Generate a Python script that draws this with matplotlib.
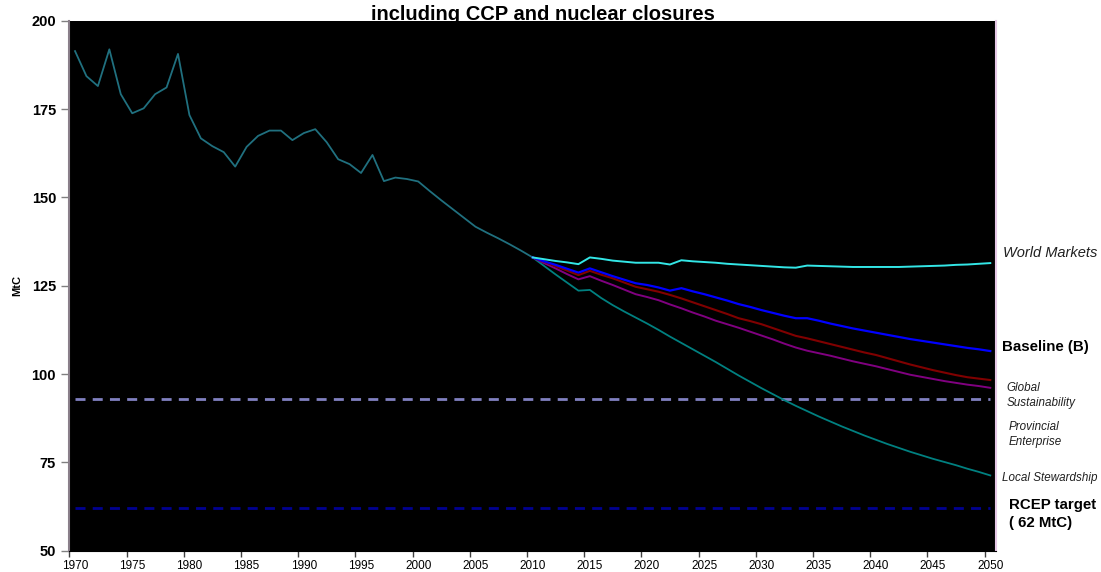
import matplotlib
matplotlib.use("Agg")
import matplotlib.pyplot as plt
import numpy as np

plt.rcParams['font.family'] = ['Liberation Sans', 'DejaVu Sans']

# Historical emissions, 1970-2010 (MtC)
hist_years = list(range(1970, 2011))
hist_values = [191.4, 184.3, 181.5, 191.9, 179.2, 173.8, 175.2, 179.2, 181.1, 190.6,
               173.3, 166.7, 164.5, 162.8, 158.7, 164.3, 167.4, 168.9, 168.9, 166.2,
               168.2, 169.3, 165.6, 160.8, 159.4, 156.9, 162.0, 154.6, 155.6, 155.2,
               154.5, 151.8, 149.2, 146.7, 144.2, 141.7, 140.0, 138.4, 136.7, 134.9,
               133.0]

# Scenario projections, 2010-2050 (MtC)
proj_years = list(range(2010, 2051))
world_markets = [133.0, 132.5, 132.0, 131.6, 131.1, 133.0, 132.6, 132.1, 131.8, 131.5,
                 131.5, 131.5, 131.0, 132.2, 131.9, 131.7, 131.5, 131.2, 131.0, 130.8,
                 130.6, 130.4, 130.2, 130.1, 130.7, 130.6, 130.5, 130.4, 130.3, 130.3,
                 130.3, 130.3, 130.3, 130.4, 130.5, 130.6, 130.7, 130.9, 131.0, 131.2,
                 131.4]
baseline = [133.0, 131.9, 130.9, 129.8, 128.7, 129.9, 128.8, 127.7, 126.7, 125.7,
            125.2, 124.5, 123.6, 124.3, 123.4, 122.6, 121.7, 120.8, 119.8, 119.0,
            118.1, 117.3, 116.5, 115.8, 115.8, 115.1, 114.3, 113.6, 112.9, 112.3,
            111.7, 111.1, 110.5, 109.9, 109.4, 108.9, 108.4, 107.9, 107.4, 107.0,
            106.5]
global_sustainability = [133.0, 131.8, 130.5, 129.3, 128.0, 129.2, 128.1, 127.1, 125.9, 124.7,
                         124.0, 123.3, 122.4, 121.4, 120.3, 119.2, 118.1, 117.0, 115.8, 115.0,
                         114.1, 113.0, 111.9, 110.8, 110.1, 109.3, 108.5, 107.7, 106.9, 106.1,
                         105.4, 104.5, 103.6, 102.7, 101.9, 101.1, 100.4, 99.7, 99.1, 98.7,
                         98.3]
provincial_enterprise = [133.0, 131.4, 129.9, 128.3, 126.8, 127.7, 126.4, 125.2, 123.9, 122.6,
                         121.8, 120.9, 119.7, 118.6, 117.4, 116.3, 115.1, 114.1, 113.1, 112.0,
                         110.9, 109.8, 108.6, 107.5, 106.6, 105.9, 105.2, 104.4, 103.6, 102.9,
                         102.2, 101.4, 100.6, 99.8, 99.2, 98.6, 98.0, 97.5, 97.0, 96.6,
                         96.1]
local_stewardship = [133.0, 130.6, 128.2, 125.9, 123.6, 123.8, 121.5, 119.5, 117.7, 116.0,
                     114.3, 112.5, 110.6, 108.8, 107.0, 105.2, 103.4, 101.5, 99.6, 97.8,
                     96.0, 94.3, 92.6, 91.0, 89.5, 88.0, 86.6, 85.2, 83.9, 82.6,
                     81.4, 80.2, 79.1, 78.0, 77.0, 76.0, 75.1, 74.2, 73.2, 72.3,
                     71.3]

# Reference levels (MtC)
global_sust_level = 93
rcep_target = 62

y_ticks = [50, 75, 100, 125, 150, 175, 200]
x_tick_years = list(range(1970, 2051, 5))

fig = plt.figure(figsize=(11.01, 5.72), dpi=100)
ax = fig.add_axes([69.3 / 1101, 1 - 550.7 / 572, (996 - 69.3) / 1101, (550.7 - 20.7) / 572])
ax.set_facecolor('black')

# dashed reference lines
ax.plot([1970, 2050], [global_sust_level] * 2, color='#8080c0', lw=2.0,
        dashes=(3.6, 2.6), solid_capstyle='butt')
ax.plot([1970, 2050], [rcep_target] * 2, color='#000090', lw=2.0,
        dashes=(3.6, 2.6), solid_capstyle='butt')

ax.plot(hist_years, hist_values, color='#20707f', lw=1.3)
ax.plot(proj_years, local_stewardship, color='#008080', lw=1.3)
ax.plot(proj_years, provincial_enterprise, color='#800080', lw=1.4)
ax.plot(proj_years, global_sustainability, color='#800000', lw=1.5)
ax.plot(proj_years, baseline, color='#0000ff', lw=1.6)
ax.plot(proj_years, world_markets, color='#33e6e6', lw=1.4)

ax.set_xlim(1969.5, 2050.5)
ax.set_ylim(50, 200)

ax.set_yticks(y_ticks)
ax.set_yticklabels([str(v) for v in y_ticks], fontsize=10.5, fontweight='bold')
ax.tick_params(axis='y', direction='out', length=6, width=1, color='#808080', pad=3.5)

ax.set_xticks(x_tick_years)
ax.set_xticklabels([str(v) for v in x_tick_years], fontsize=8.5)
ax.set_xticks([y - 0.5 for y in x_tick_years], minor=True)
ax.tick_params(axis='x', which='major', length=0, pad=7)
ax.tick_params(axis='x', which='minor', direction='out', length=4, width=1, color='#404040')

ax.spines['top'].set_visible(False)
ax.spines['bottom'].set_color('black')
ax.spines['left'].set_color('#8a7f8a')
ax.spines['left'].set_linewidth(1.5)
ax.spines['right'].set_color('#e6c8e6')
ax.spines['right'].set_linewidth(1.5)

ax.set_ylabel('MtC', fontsize=8, fontweight='bold', labelpad=7)

# title sits behind the plotting area
fig.text(543 / 1101, 1 - 20.5 / 572, 'including CCP and nuclear closures',
         ha='center', va='baseline', fontsize=14.5, fontweight='bold', zorder=-1)

def px(x, y):
    return x / 1101, 1 - y / 572

fig.text(*px(1003, 252.7), 'World Markets', fontsize=10.5, style='italic',
         ha='left', va='center', color='#202020')
fig.text(*px(1002, 347.3), 'Baseline (B)', fontsize=10.8, fontweight='bold',
         ha='left', va='center')
fig.text(*px(1006.5, 387.7), 'Global', fontsize=8.4, style='italic', ha='left', va='center',
         color='#202020')
fig.text(*px(1006.5, 403.3), 'Sustainability', fontsize=8.4, style='italic', ha='left',
         va='center', color='#202020')
fig.text(*px(1009, 426.7), 'Provincial', fontsize=8.4, style='italic', ha='left', va='center',
         color='#202020')
fig.text(*px(1009, 442), 'Enterprise', fontsize=8.4, style='italic', ha='left', va='center',
         color='#202020')
fig.text(*px(1002, 477.7), 'Local Stewardship', fontsize=8.4, style='italic', ha='left',
         va='center', color='#202020')
fig.text(*px(1009, 505), 'RCEP target', fontsize=10.8, fontweight='bold', ha='left',
         va='center')
fig.text(*px(1009, 523.3), '( 62 MtC)', fontsize=10.8, fontweight='bold', ha='left',
         va='center')

fig.savefig('out.png', dpi=100)
